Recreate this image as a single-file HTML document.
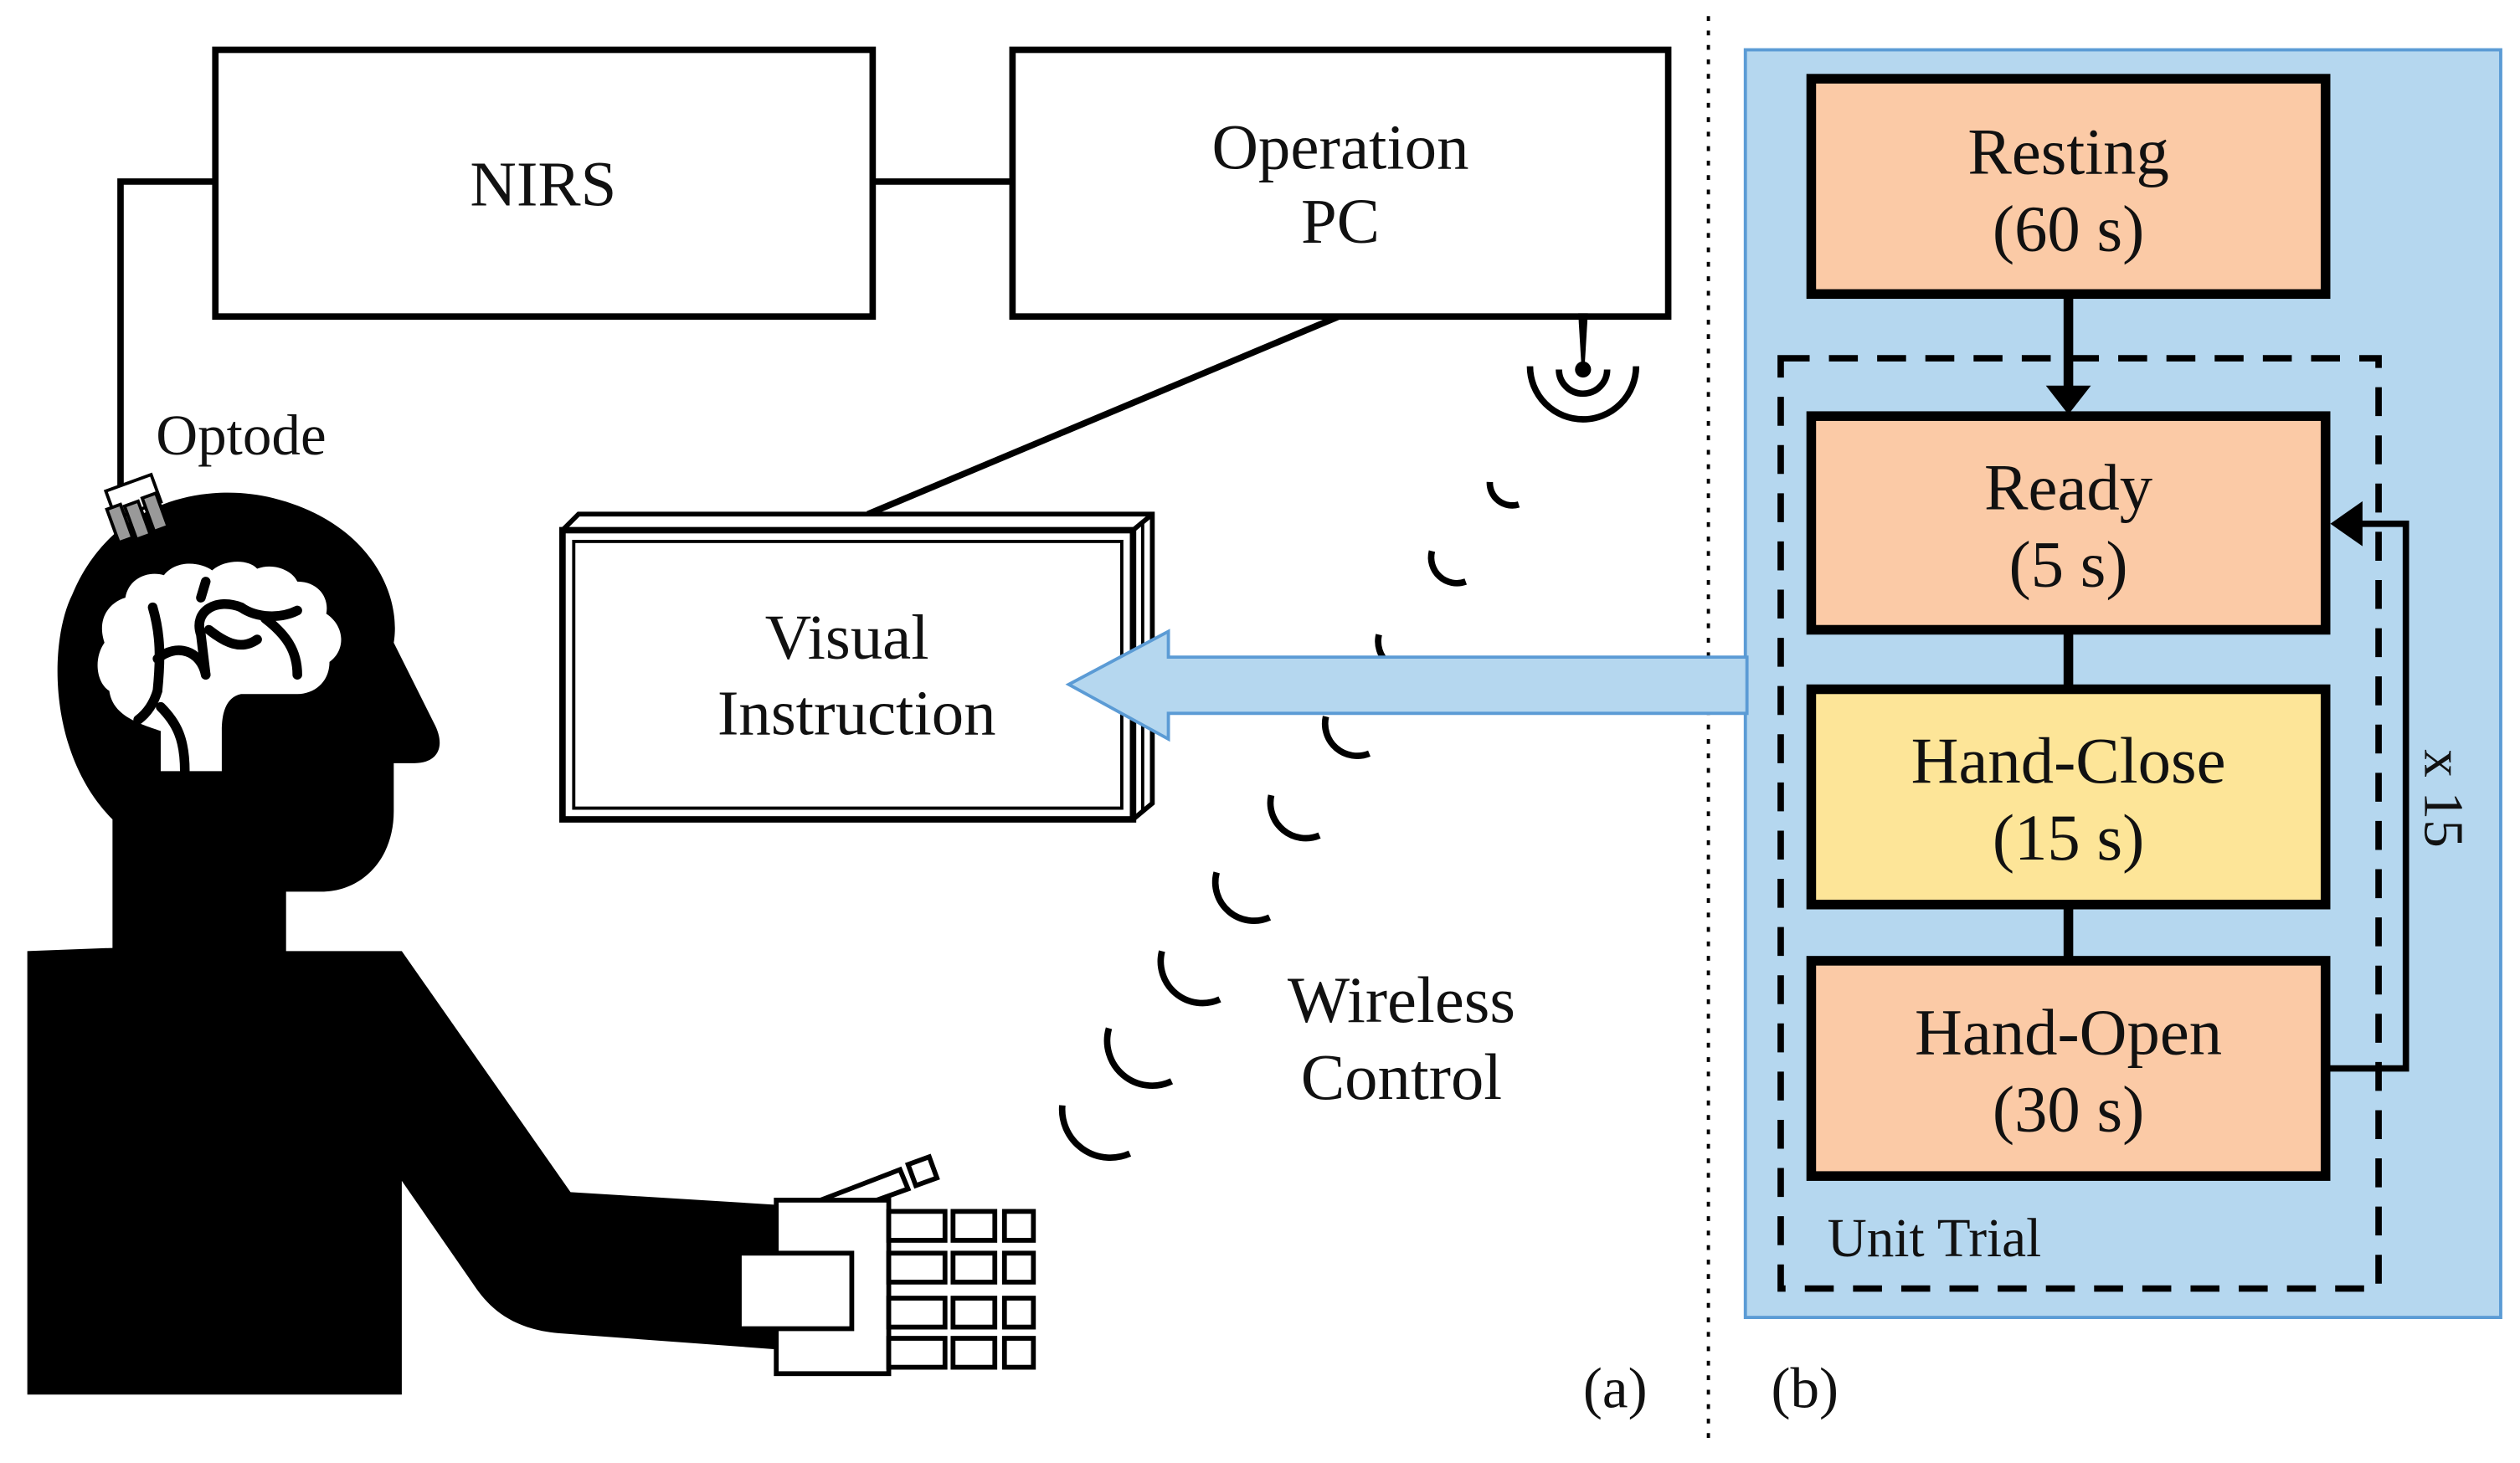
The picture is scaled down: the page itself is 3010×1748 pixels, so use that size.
<!DOCTYPE html>
<html><head><meta charset="utf-8"><style>
html,body{margin:0;padding:0;background:#fff}
svg{display:block}
text{font-family:"Liberation Serif",serif;fill:#111}
</style></head><body>
<svg width="3010" height="1748" viewBox="0 0 1568 910.6" preserveAspectRatio="none">
<rect width="1568" height="911" fill="#fff"/>
<rect x="134" y="31" width="409" height="166" fill="#fff" stroke="#000" stroke-width="4"/>
<rect x="630" y="31" width="408" height="166" fill="#fff" stroke="#000" stroke-width="4"/>
<text x="338" y="128" font-size="40" text-anchor="middle">NIRS</text>
<text x="834" y="105" font-size="40" text-anchor="middle">Operation</text>
<text x="834" y="151" font-size="40" text-anchor="middle">PC</text>
<line x1="543" y1="113" x2="630" y2="113" stroke="#000" stroke-width="4"/>
<polyline points="134,113 75,113 75,310" fill="none" stroke="#000" stroke-width="4"/>
<text x="97" y="283" font-size="36">Optode</text>
<line x1="833" y1="197" x2="540" y2="320" stroke="#000" stroke-width="4"/>
<polygon points="350,330 360,320 717,320 717,500 705,510 350,510" fill="#fff" stroke="#000" stroke-width="3"/>
<line x1="705" y1="330" x2="717" y2="320" stroke="#000" stroke-width="3"/>
<line x1="705" y1="330" x2="705" y2="510" stroke="#000" stroke-width="3"/>
<line x1="711" y1="325" x2="711" y2="505" stroke="#000" stroke-width="2"/>
<rect x="350" y="330" width="355" height="180" fill="#fff" stroke="#000" stroke-width="4"/>
<rect x="357" y="337" width="341" height="166" fill="none" stroke="#000" stroke-width="2"/>
<text x="527" y="410" font-size="40" text-anchor="middle">Visual</text>
<text x="533" y="457" font-size="40" text-anchor="middle">Instruction</text>
<path d="M982,195 L988,195 L986,228 L984,228 Z" fill="#000"/>
<circle cx="985" cy="230" r="5" fill="#000"/>
<path d="M970,230 A15,15 0 0 0 1000,230" fill="none" stroke="#000" stroke-width="4"/>
<path d="M952,228 A33,33 0 0 0 1018,228" fill="none" stroke="#000" stroke-width="4"/>
<g fill="none" stroke="#000" stroke-width="4">
<path d="M927,300 A14,14 0 0 0 945,314"/>
<path d="M891,343 A16,16 0 0 0 912,362"/>
<path d="M858,395 A18,18 0 0 0 882,416"/>
<path d="M825,446 A20,20 0 0 0 852,469"/>
<path d="M791,495 A22,22 0 0 0 821,520"/>
<path d="M757,543 A24,24 0 0 0 790,571"/>
<path d="M723,592 A26,26 0 0 0 759,622"/>
<path d="M690,640 A28,28 0 0 0 729,673"/>
<path d="M661,688 A30,30 0 0 0 703,718"/>
</g>
<text x="872" y="636" font-size="41" text-anchor="middle">Wireless</text>
<text x="872" y="684" font-size="41" text-anchor="middle">Control</text>
<path d="M70,590 L70,510 C30,470 30,400 45,370 C70,310 130,300 170,310 C230,325 250,370 245,400 L270,450 C278,465 272,475 258,475 L245,475 L245,505 C245,535 225,555 200,555 L178,555 L178,592 L250,592 L355,742 L485,750 L485,840 L350,830 C320,828 305,815 295,800 L250,735 L250,868 L17,868 L17,592 Z" fill="#000"/>
<path d="M100,480 L100,455 C85,450 70,445 68,430 C60,425 58,410 65,400 C60,385 68,375 78,372 C80,360 92,355 102,358 C110,348 125,350 132,355 C140,348 155,348 160,354 C170,350 182,355 185,362 C198,362 205,372 203,382 C215,390 215,405 205,412 C205,425 195,432 185,432 L150,432 C140,434 138,445 138,455 L138,480 Z" fill="#fff"/>
<g fill="none" stroke="#000" stroke-width="6" stroke-linecap="round">
<path d="M95,378 C100,395 100,410 98,430"/>
<path d="M98,410 C110,400 125,405 128,420"/>
<path d="M128,420 L125,395 C120,380 135,372 150,378"/>
<path d="M150,378 C160,385 175,385 185,380"/>
<path d="M130,392 C140,400 150,405 160,398"/>
<path d="M165,385 C178,395 185,405 185,420"/>
<path d="M100,440 C110,450 115,460 115,480"/>
<path d="M98,430 C95,440 90,445 86,448"/>
<path d="M125,372 L128,362"/>
</g>
<g stroke="#000" stroke-width="2">
<rect x="68" y="300" width="30" height="18" fill="#fff" transform="rotate(-20 83 309)"/>
<rect x="70" y="315" width="9" height="22" fill="#999" transform="rotate(-20 74 326)"/>
<rect x="81" y="313" width="9" height="22" fill="#999" transform="rotate(-20 85 324)"/>
<rect x="92" y="308" width="9" height="22" fill="#999" transform="rotate(-20 96 319)"/>
</g>
<g fill="#fff" stroke="#000" stroke-width="3">
<polygon points="508,748 560,728 565,740 515,758"/>
<rect x="567" y="722" width="14" height="14" transform="rotate(-20 574 729)"/>
<rect x="483" y="747" width="70" height="108"/>
<rect x="460" y="780" width="70" height="47"/>
<rect x="553" y="754" width="35" height="18"/><rect x="593" y="754" width="26" height="18"/><rect x="625" y="754" width="18" height="18"/>
<rect x="553" y="780" width="35" height="18"/><rect x="593" y="780" width="26" height="18"/><rect x="625" y="780" width="18" height="18"/>
<rect x="553" y="808" width="35" height="18"/><rect x="593" y="808" width="26" height="18"/><rect x="625" y="808" width="18" height="18"/>
<rect x="553" y="833" width="35" height="18"/><rect x="593" y="833" width="26" height="18"/><rect x="625" y="833" width="18" height="18"/>
</g>
<line x1="1063" y1="10" x2="1063" y2="897" stroke="#000" stroke-width="2" stroke-dasharray="3,6"/>
<text x="1005" y="876" font-size="36" text-anchor="middle">(a)</text>
<text x="1123" y="876" font-size="36" text-anchor="middle">(b)</text>
<rect x="1086" y="31" width="470" height="789" fill="#b5d7ef" stroke="#5b9bd5" stroke-width="2"/>
<polygon points="1087,409 727,409 727,393 665,426 727,460 727,444 1087,444" fill="#b5d7ef" stroke="#5b9bd5" stroke-width="2"/>
<rect x="1108" y="223" width="372" height="579" fill="none" stroke="#000" stroke-width="4" stroke-dasharray="18,12"/>
<g stroke="#000" stroke-width="6">
<rect x="1127" y="49" width="320" height="134" fill="#fbcaa6"/>
<rect x="1127" y="259" width="320" height="133" fill="#fbcaa6"/>
<rect x="1127" y="429" width="320" height="134" fill="#fde598"/>
<rect x="1127" y="598" width="320" height="134" fill="#fbcaa6"/>
<line x1="1287" y1="183" x2="1287" y2="245"/>
<line x1="1287" y1="392" x2="1287" y2="429"/>
<line x1="1287" y1="563" x2="1287" y2="598"/>
</g>
<polygon points="1273,240 1301,240 1287,258" fill="#000"/>
<polyline points="1447,665 1497,665 1497,326 1465,326" fill="none" stroke="#000" stroke-width="4"/>
<polygon points="1450,326 1470,312 1470,340" fill="#000"/>
<g font-size="41" text-anchor="middle">
<text x="1287" y="108">Resting</text><text x="1287" y="156">(60 s)</text>
<text x="1287" y="317">Ready</text><text x="1287" y="365">(5 s)</text>
<text x="1287" y="487">Hand-Close</text><text x="1287" y="535">(15 s)</text>
<text x="1287" y="656">Hand-Open</text><text x="1287" y="704">(30 s)</text>
</g>
<text x="1137" y="782" font-size="34">Unit Trial</text>
<text transform="translate(1509,497) rotate(90)" font-size="35" text-anchor="middle">x 15</text>
</svg>
</body></html>
